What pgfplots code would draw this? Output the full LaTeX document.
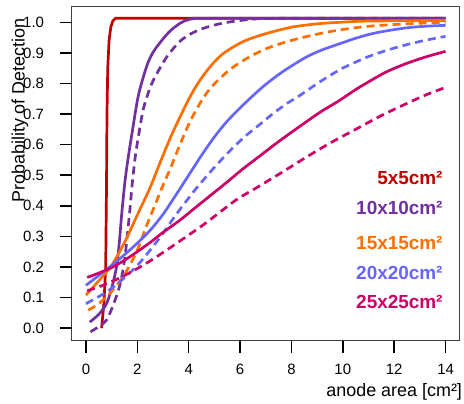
\documentclass[border=0pt]{standalone}
\usepackage{fontspec}
\setmainfont{Liberation Sans}
\usepackage{pgfplots}
\pgfplotsset{compat=1.18}
\definecolor{cred}{RGB}{192,0,0}
\definecolor{cpurple}{RGB}{112,48,160}
\definecolor{corange}{RGB}{255,110,0}
\definecolor{cblue}{RGB}{102,102,255}
\definecolor{cmag}{RGB}{204,0,102}
\begin{document}
\begin{tikzpicture}
\begin{axis}[
  scale only axis, width=388bp, height=333.7bp,
  xmin=-0.56, xmax=14.55, ymin=-0.0415, ymax=1.05,
  xtick={0,2,4,6,8,10,12,14},
  ytick={0,0.1,0.2,0.3,0.4,0.5,0.6,0.7,0.8,0.9,1.0},
  xtick pos=bottom, ytick pos=left,
  tick align=outside, major tick length=12bp,
  every tick/.style={draw=black, line width=1.4bp},
  axis line style={draw=black!75, line width=1bp},
  xticklabel shift=8bp, yticklabel shift=12bp,
  /pgf/number format/assume math mode=true,
  yticklabel style={/pgf/number format/fixed, /pgf/number format/fixed zerofill, /pgf/number format/precision=1},
  ticklabel style={font=\fontsize{15}{18}\selectfont},
  every axis plot/.append style={line width=2.7bp},
  dashstyle/.style={dash pattern=on 8bp off 5bp},
]
\coordinate (bl) at (rel axis cs:0,0);
\coordinate (tr) at (rel axis cs:1,1);
% 5x5
\addplot[cred] coordinates {(0.61,0.0) (0.7,0.08) (0.77,0.2) (0.8,0.45) (0.82,0.7) (0.85,0.85) (0.9,0.94) (0.97,0.985) (1.05,1.005) (1.15,1.013) (14,1.013)};
% 10x10
\addplot[cpurple, smooth, tension=0.5] coordinates {(0.15,0.02) (0.5,0.045) (0.8,0.08) (1.0,0.13) (1.19,0.2) (1.3,0.28) (1.39,0.37) (1.52,0.48) (1.65,0.56) (1.8,0.64) (2.04,0.76) (2.36,0.855) (2.6,0.9) (2.88,0.933) (3.2,0.965) (3.5,0.987) (3.8,1.003) (4.2,1.012) (5,1.013) (14,1.013)};
\addplot[cpurple, dashstyle, smooth, tension=0.5] coordinates {(0.18,-0.012) (0.5,0.005) (0.8,0.026) (1.06,0.075) (1.32,0.14) (1.5,0.22) (1.6,0.295) (1.71,0.385) (1.8,0.47) (1.92,0.56) (2.05,0.63) (2.23,0.715) (2.45,0.775) (2.62,0.81) (2.88,0.85) (3.2,0.893) (3.66,0.938) (4.1,0.963) (4.56,0.98) (5.1,0.993) (5.73,1.003) (6.5,1.01) (7.5,1.013) (14,1.013)};
% 15x15
\addplot[corange, smooth, tension=0.5] coordinates {(0.0,0.108) (0.5,0.155) (1.0,0.205) (1.5,0.28) (2.0,0.37) (2.5,0.46) (2.88,0.54) (3.3,0.625) (3.66,0.69) (4.0,0.748) (4.31,0.794) (4.65,0.835) (4.95,0.866) (5.3,0.895) (5.73,0.919) (6.2,0.94) (6.77,0.957) (7.4,0.972) (8.07,0.985) (9.0,0.995) (9.9,1.0) (11,1.004) (14,1.006)};
\addplot[corange, dashstyle, smooth, tension=0.5] coordinates {(0.09,0.059) (0.5,0.08) (1.0,0.12) (1.5,0.175) (2.0,0.255) (2.36,0.335) (2.75,0.415) (2.95,0.457) (3.3,0.525) (3.66,0.6) (4.05,0.675) (4.44,0.735) (4.8,0.78) (5.21,0.816) (5.6,0.845) (5.99,0.868) (6.5,0.893) (7.03,0.914) (7.6,0.931) (8.33,0.948) (9.1,0.963) (9.88,0.975) (11,0.987) (12.5,0.995) (14,1.0)};
% 20x20
\addplot[cblue, smooth, tension=0.5] coordinates {(0,0.14) (0.5,0.172) (1.0,0.205) (1.5,0.24) (2.0,0.278) (2.5,0.32) (3.0,0.372) (3.5,0.435) (4.0,0.5) (4.5,0.565) (5.0,0.625) (5.47,0.674) (6.0,0.72) (6.5,0.76) (7.0,0.797) (7.55,0.832) (8.0,0.857) (8.59,0.887) (9.2,0.91) (9.88,0.93) (10.4,0.945) (11,0.96) (11.7,0.972) (12.5,0.982) (13.2,0.987) (14,0.99)};
\addplot[cblue, dashstyle, smooth, tension=0.5] coordinates {(0,0.08) (0.5,0.103) (1.0,0.13) (1.5,0.165) (2.0,0.205) (2.5,0.255) (3.0,0.31) (3.5,0.37) (4.18,0.445) (4.7,0.497) (5.21,0.545) (5.7,0.588) (6.25,0.631) (6.8,0.668) (7.29,0.702) (7.8,0.733) (8.33,0.761) (9.1,0.805) (9.88,0.845) (10.4,0.866) (11.0,0.888) (11.7,0.908) (12.4,0.925) (13.2,0.941) (14,0.954)};
% 25x25
\addplot[cmag, smooth, tension=0.5] coordinates {(0.05,0.166) (0.5,0.18) (1.0,0.198) (1.5,0.222) (2.0,0.25) (2.5,0.28) (3.0,0.313) (3.66,0.353) (4.2,0.39) (4.82,0.432) (5.5,0.478) (6.1,0.52) (6.77,0.563) (7.5,0.61) (8.33,0.66) (9.1,0.705) (9.88,0.745) (10.5,0.78) (11.2,0.815) (11.7,0.838) (12.4,0.863) (13.2,0.886) (14,0.905)};
\addplot[cmag, dashstyle, smooth, tension=0.5] coordinates {(0.05,0.122) (0.5,0.135) (1.0,0.152) (1.5,0.172) (2.0,0.195) (2.5,0.22) (3.14,0.255) (3.66,0.285) (4.44,0.33) (4.95,0.362) (5.86,0.42) (6.7,0.462) (7.68,0.512) (8.5,0.555) (9.5,0.605) (10.5,0.65) (11.5,0.695) (12.5,0.735) (13.3,0.765) (14,0.787)};
% labels
\node[anchor=base east, text=cred, font=\fontsize{19}{22}\selectfont\bfseries] at (axis cs:14.02,0.471) {5x5cm²};
\node[anchor=base east, text=cpurple, font=\fontsize{19}{22}\selectfont\bfseries] at (axis cs:14.02,0.372) {10x10cm²};
\node[anchor=base east, text=corange, font=\fontsize{19}{22}\selectfont\bfseries] at (axis cs:14.02,0.257) {15x15cm²};
\node[anchor=base east, text=cblue, font=\fontsize{19}{22}\selectfont\bfseries] at (axis cs:14.02,0.159) {20x20cm²};
\node[anchor=base east, text=cmag, font=\fontsize{19}{22}\selectfont\bfseries] at (axis cs:14.02,0.064) {25x25cm²};
\end{axis}
\draw[black!75, line width=1bp] (bl) rectangle (tr);
\foreach \v in {0,0.1,0.2,0.3,0.4,0.5,0.6,0.7,0.8,0.9,1.0}
  \draw[black, line width=1.4bp] ([yshift={(\v+0.0415)/1.0915*333.7bp}]bl) -- ++(-12bp,0pt);
\foreach \u in {0,2,4,6,8,10,12,14}
  \draw[black, line width=1.4bp] ([xshift={(\u+0.56)/15.11*388bp}]bl) -- ++(0pt,-12bp);
\node[anchor=base east, font=\fontsize{18}{21}\selectfont, inner sep=0pt] at ([shift={(2.5bp,-56bp)}]bl -| tr) {anode area [cm²]};
\node[rotate=90, anchor=base, font=\fontsize{18}{21}\selectfont, inner sep=0pt] at ([shift={(-47bp,{0.69*333.7bp})}]bl) {Probability of Detection};
\pgfresetboundingbox
\path ([shift={(-71.5bp,-62.3bp)}]bl) rectangle ([shift={(4.3bp,7bp)}]tr);
\end{tikzpicture}
\end{document}
